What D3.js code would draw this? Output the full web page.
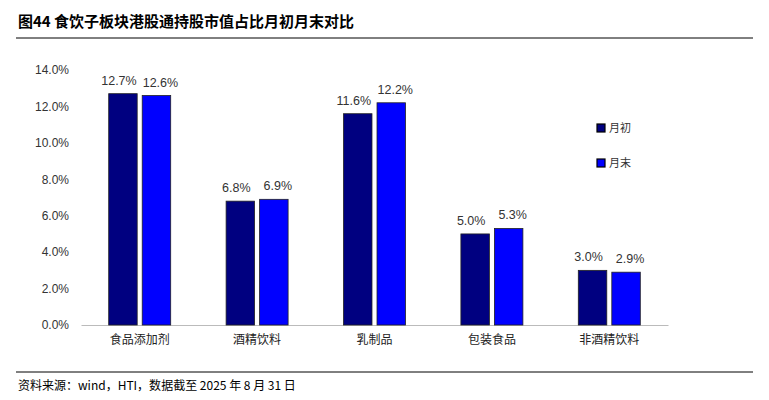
<!DOCTYPE html>
<html><head><meta charset="utf-8">
<script src="https://cdn.jsdelivr.net/npm/d3@7"></script>
<style>body{margin:0;background:#fff}</style>
</head><body>
<svg id="chart" width="769" height="400"></svg>
<script>
const categories = ['食品添加剂', '酒精饮料', '乳制品', '包装食品', '非酒精饮料'];
const seriesNames = ['月初', '月末'];
const startVals = [12.7, 6.8, 11.6, 5.0, 3.0];
const endVals = [12.6, 6.9, 12.2, 5.3, 2.9];
const yTicks = [0, 2, 4, 6, 8, 10, 12, 14];
const colors = ['#000080', '#0000FF'];

const svg = d3.select('#chart');
const font = '"Noto Sans CJK SC", sans-serif';

svg.append('text').attr('x', 18).attr('y', 27)
    .style('font-family', font).style('font-size', '15px').style('font-weight', 'bold')
    .text('图44 食饮子板块港股通持股市值占比月初月末对比');
svg.append('line').attr('x1', 16).attr('x2', 753).attr('y1', 38).attr('y2', 38)
    .attr('stroke', '#000').attr('stroke-width', 1);
svg.append('line').attr('x1', 16).attr('x2', 753).attr('y1', 372).attr('y2', 372)
    .attr('stroke', '#000').attr('stroke-width', 1);
svg.append('text').attr('x', 18).attr('y', 390)
    .style('font-family', font).style('font-size', '12px')
    .text('资料来源：wind，HTI，数据截至 2025 年 8 月 31 日');

const margin = {left: 81, top: 70, right: 101, bottom: 75};
const w = 769 - margin.left - margin.right;
const h = 400 - margin.top - margin.bottom;
const g = svg.append('g').attr('transform', `translate(${margin.left},${margin.top})`);

const x = d3.scaleBand().domain(categories).range([0, w]);
const xs = d3.scaleBand().domain(seriesNames).range([0, 62]).paddingInner(0.15);
const y = d3.scaleLinear().domain([0, 14]).range([h, 0]);

const yAxis = g.append('g').call(d3.axisLeft(y).tickValues(yTicks).tickSize(0).tickPadding(12)
    .tickFormat(d => d.toFixed(1) + '%'));
yAxis.select('.domain').remove();
yAxis.selectAll('text').style('font-family', 'Arial, "Liberation Sans"').style('font-size', '12px').attr('fill', '#333');

const xAxis = g.append('g').attr('transform', `translate(0,${h})`)
    .call(d3.axisBottom(x).tickSize(0).tickPadding(10));
xAxis.select('.domain').attr('stroke', '#bbb');
xAxis.selectAll('text').style('font-family', font).style('font-size', '12px').attr('fill', '#222');

const rows = categories.map((c, i) => ({c, vals: [startVals[i], endVals[i]]}));
const grp = g.selectAll('.cat').data(rows).join('g')
    .attr('transform', d => `translate(${x(d.c) + x.bandwidth() / 2 - 31},0)`);
grp.selectAll('rect').data(d => d.vals.map((v, j) => ({v, s: seriesNames[j], j})))
    .join('rect')
    .attr('x', d => xs(d.s)).attr('width', xs.bandwidth())
    .attr('y', d => y(d.v)).attr('height', d => h - y(d.v))
    .attr('fill', d => colors[d.j]).attr('stroke', '#222').attr('stroke-width', 0.8);
grp.selectAll('text').data(d => d.vals.map((v, j) => ({v, s: seriesNames[j], j})))
    .join('text')
    .attr('x', d => xs(d.s) + xs.bandwidth() / 2 + (d.j ? 4 : -4)).attr('y', d => y(d.v) - 9)
    .attr('text-anchor', 'middle')
    .style('font-family', 'Arial, "Liberation Sans"').style('font-size', '12.5px').attr('fill', '#333')
    .text(d => d.v.toFixed(1) + '%');

const leg = svg.append('g').attr('transform', 'translate(597,124)');
seriesNames.forEach((s, i) => {
    leg.append('rect').attr('x', 0).attr('y', i * 35).attr('width', 8).attr('height', 8)
        .attr('fill', colors[i]).attr('stroke', '#000').attr('stroke-width', 1.2);
    leg.append('text').attr('x', 12).attr('y', i * 35 + 8)
        .style('font-family', font).style('font-size', '11px').attr('fill', '#333').text(s);
});
</script>
</body></html>
